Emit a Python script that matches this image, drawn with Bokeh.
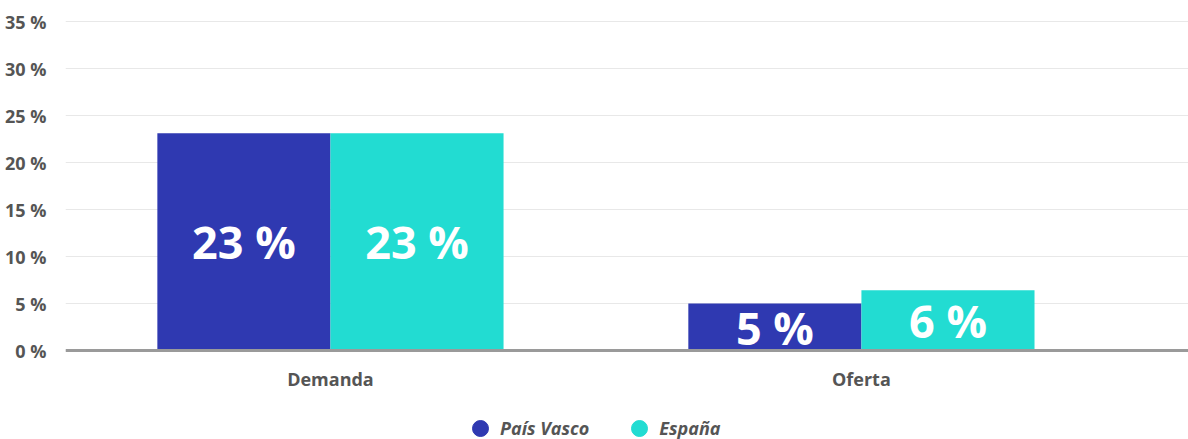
from bokeh.plotting import figure
from bokeh.models import ColumnDataSource, FixedTicker, Range1d, Legend, LegendItem
from bokeh.transform import dodge
from bokeh.core.properties import value
from bokeh.embed import file_html
from bokeh.resources import INLINE

categories = ["Demanda", "Oferta"]
pais_vasco = [23.1, 5.0]
espana = [23.1, 6.4]
series_names = ["País Vasco", "España"]
y_ticks = [0, 5, 10, 15, 20, 25, 30, 35]
y_tick_labels = ["0 %", "5 %", "10 %", "15 %", "20 %", "25 %", "30 %", "35 %"]

C_PV = "#2f39b1"
C_ES = "#22dcd2"
FONT = "Open Sans"

idx = list(range(len(categories)))
src = ColumnDataSource(dict(
    x=idx,
    pv=pais_vasco,
    es=espana,
    pv_mid=[v / 2 for v in pais_vasco],
    es_mid=[v / 2 for v in espana],
    pv_lab=[f"{round(v)} %" for v in pais_vasco],
    es_lab=[f"{round(v)} %" for v in espana],
))

PX = 9.4  # pixels per percentage point
p = figure(width=1188, height=439, output_backend="svg", toolbar_location=None,
           x_range=Range1d(-0.499, 1.616), y_range=Range1d(-89 / PX, 340 / PX))
p.min_border_left = 65
p.min_border_right = 0
p.min_border_top = 10
p.min_border_bottom = 0
p.outline_line_color = None
p.background_fill_color = "white"
p.border_fill_color = "white"

bw = 0.326
r_pv = p.vbar(x=dodge("x", -0.163), top="pv", width=bw, source=src, color=C_PV, line_color=None)
r_es = p.vbar(x=dodge("x", 0.163), top="es", width=bw, source=src, color=C_ES, line_color=None)

p.text(x=dodge("x", -0.163), y="pv_mid", text="pv_lab", source=src, text_color="white",
       text_font=value(FONT), text_font_style="bold", text_font_size="45px",
       text_align="center", text_baseline="middle")
p.text(x=dodge("x", 0.163), y="es_mid", text="es_lab", source=src, text_color="white",
       text_font=value(FONT), text_font_style="bold", text_font_size="45px",
       text_align="center", text_baseline="middle")

# y axis
p.yaxis.ticker = FixedTicker(ticks=y_ticks)
p.yaxis.major_label_overrides = {t: l for t, l in zip(y_ticks, y_tick_labels)}
p.yaxis.axis_line_color = None
p.yaxis.major_tick_line_color = None
p.yaxis.minor_tick_line_color = None
p.yaxis.major_label_text_font = FONT
p.yaxis.major_label_text_font_style = "bold"
p.yaxis.major_label_text_font_size = "18px"
p.yaxis.major_label_text_color = "#555555"
p.yaxis.major_label_standoff = 13
p.ygrid.grid_line_color = "#e8e8e8"
p.ygrid.grid_line_width = 1

# x axis pinned at y = 0
p.xaxis.fixed_location = 0
p.xaxis.ticker = FixedTicker(ticks=idx)
p.xaxis.major_label_overrides = {i: c for i, c in zip(idx, categories)}
p.xaxis.axis_line_color = "#9a9a9a"
p.xaxis.axis_line_width = 3
p.xaxis.major_tick_line_color = None
p.xaxis.minor_tick_line_color = None
p.xaxis.major_label_text_font = FONT
p.xaxis.major_label_text_font_style = "bold"
p.xaxis.major_label_text_font_size = "18px"
p.xaxis.major_label_text_color = "#555555"
p.xaxis.major_label_standoff = 10
p.xgrid.grid_line_color = None

# legend markers (off-screen points, only for legend)
lg_pv = p.scatter(x=[-5], y=[-50], marker="circle", size=16, color=C_PV)
lg_es = p.scatter(x=[-5], y=[-50], marker="circle", size=16, color=C_ES)
legend = Legend(items=[LegendItem(label=series_names[0], renderers=[lg_pv]),
                       LegendItem(label=series_names[1], renderers=[lg_es])],
                orientation="horizontal", location=(395, -9))
legend.label_text_font = FONT
legend.label_text_font_style = "bold italic"
legend.label_text_font_size = "18px"
legend.label_text_color = "#555555"
legend.border_line_color = None
legend.background_fill_alpha = 0
legend.glyph_width = 40
legend.glyph_height = 40
legend.label_standoff = 0
legend.spacing = 30
legend.margin = 0
legend.padding = 0
p.add_layout(legend)

open("out.html", "w").write(file_html(p, INLINE))
